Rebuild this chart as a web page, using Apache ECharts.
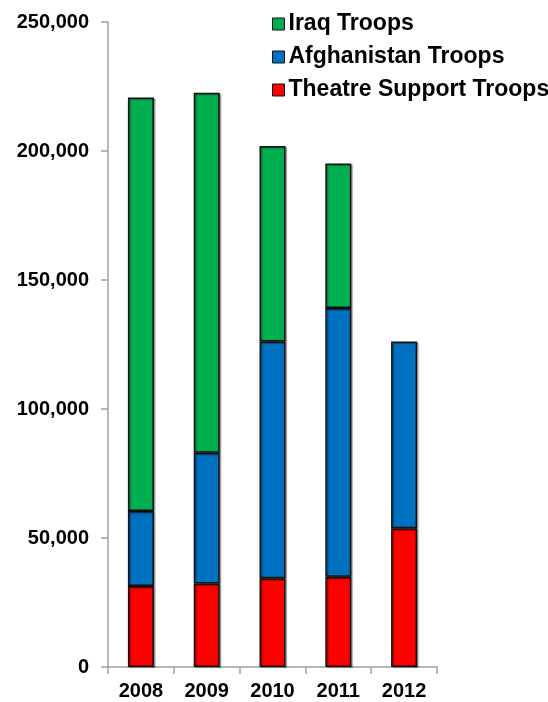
<!DOCTYPE html>
<html><head><meta charset="utf-8">
<script src="https://cdn.jsdelivr.net/npm/echarts@6/dist/echarts.min.js"></script>
<style>html,body{margin:0;padding:0;background:#fff}#c{width:548px;height:702px}</style>
</head><body><div id="c"></div>
<script>
const years = ['2008','2009','2010','2011','2012'];
const theatreSupport = [31400, 32400, 34400, 35000, 53800];
const afghanistan = [29100, 50600, 91800, 104100, 72400];
const iraq = [160200, 139600, 75700, 56100, null];
const yTicks = [0, 50000, 100000, 150000, 200000, 250000];

const chart = echarts.init(document.getElementById('c'));
const font = 'Liberation Sans, Arial, sans-serif';
function ser(name, data, color) {
  return {
    name, type: 'bar', stack: 'total', data, barWidth: 26,
    itemStyle: { color, borderColor: '#111', borderWidth: 1.5,
      shadowColor: 'rgba(0,0,0,0.35)', shadowOffsetX: 1.5, shadowOffsetY: 1, shadowBlur: 1 }
  };
}
chart.setOption({
  animation: false,
  textStyle: { fontFamily: font },
  grid: { left: 108, right: 111, top: 22, bottom: 35, containLabel: false },
  legend: {
    orient: 'vertical', left: 272, top: 12.5, padding: 0, itemWidth: 12, itemHeight: 12, itemGap: 10,
    icon: 'rect',
    data: ['Iraq Troops', 'Afghanistan Troops', 'Theatre Support Troops'],
    textStyle: { fontSize: 23, fontWeight: 'bold', color: '#000', fontFamily: font, padding: [0,0,0,-1] },
    itemStyle: { borderColor: '#111', borderWidth: 1 }
  },
  xAxis: {
    type: 'category', data: years,
    axisLine: { lineStyle: { color: '#a0a0a0', width: 1.5 } },
    axisTick: { show: true, length: 7, lineStyle: { color: '#a0a0a0', width: 1.5 } },
    axisLabel: { color: '#000', fontSize: 20, fontWeight: 'bold', margin: 14, fontFamily: font }
  },
  yAxis: {
    type: 'value', min: yTicks[0], max: yTicks[yTicks.length-1], interval: yTicks[1]-yTicks[0],
    axisLine: { show: true, lineStyle: { color: '#a0a0a0', width: 1.5 } },
    axisTick: { show: true, length: 7, lineStyle: { color: '#a0a0a0', width: 1.5 } },
    splitLine: { show: false },
    axisLabel: { color: '#000', fontSize: 20, fontWeight: 'bold', margin: 19, fontFamily: font,
      formatter: v => v.toLocaleString('en-US') }
  },
  series: [
    ser('Theatre Support Troops', theatreSupport, '#ff0000'),
    ser('Afghanistan Troops', afghanistan, '#0070c0'),
    ser('Iraq Troops', iraq, '#00b050')
  ]
});
</script></body></html>
